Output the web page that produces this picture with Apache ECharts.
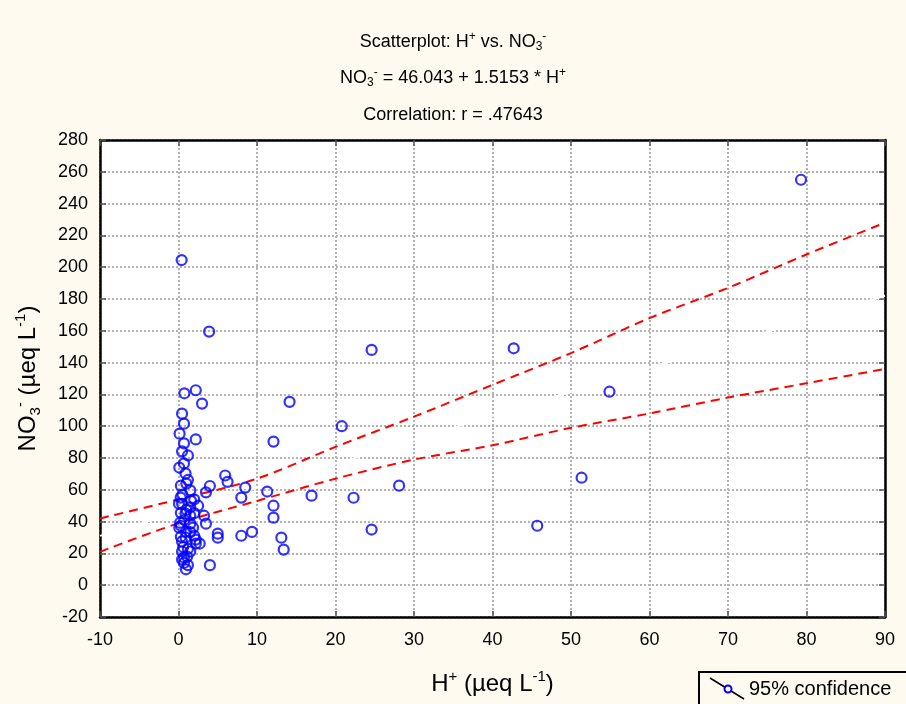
<!DOCTYPE html>
<html>
<head>
<meta charset="utf-8">
<script src="https://cdn.jsdelivr.net/npm/echarts@6/dist/echarts.min.js"></script>
<style>
html,body{margin:0;padding:0;background:#FEFAF0;}
#chart{width:906px;height:704px;}
</style>
</head>
<body>
<div id="chart"></div>
<script>
// H+ values (x) and NO3- values (y)
var hPlus = [79.3,0.4,3.9,24.6,42.7,54.9,14.15,2.2,0.75,3.0,0.45,0.7,20.8,0.14,12.1,2.2,0.7,0.45,1.2,0.7,0.1,0.9,5.95,6.25,1.2,1.0,0.3,4.0,8.5,28.1,51.35,1.5,11.3,3.5,16.95,8.0,22.3,2.0,0.27,0.06,0.45,2.5,12.1,12.1,3.25,3.5,5.0,5.0,8.0,9.36,13.1,13.4,24.6,45.7,4.0,2.2,2.7,2.2,1.5,1.5,1.5,0.45,0.9,0.45,0.7,0.45,1.2,0.95,0.7,0.1,0.3,0.2,0.74,0.9,1.5,2.0,1.85,0.95,2.0,1.0,1.5,0.3,0.6,1.2,0.3,1.1,1.6,0.5];
var no3 = [255,204.5,159.5,148,149,121.7,115.3,122.6,120.7,114.2,107.9,101.6,100,95.3,90.3,91.7,89.2,84.2,81.6,76.6,74,70.3,69,65,66.2,63.9,62.6,62.4,61.4,62.6,67.6,59.7,58.9,58.4,56.3,55.1,55,54,55.1,51.2,51.2,50,50,42.5,43.7,38.7,32.4,29.9,31.1,33.5,29.9,22.4,35,37.4,12.6,26.2,26.2,28.7,38.7,33.4,21.2,27.5,30,21.2,17.5,16.2,12.6,10,14,36.2,37.4,39.3,41,45,43.7,45.3,36.2,33.7,31.1,47.5,49,45.5,24,23,30.5,18,53,57];
// 95% confidence band, read at every 10 units of H+
var bandX = [-10,0,10,20,30,40,50,60,70,80,90];
var bandUpper = [42,54,67,87,106,126,146,168,187,208,228];
var bandLower = [21,39,53,67,79,88,99,108,118,127,136];
// regression line end points (drawn white in the original)
var regX = [-10,90];
var regY = [31,182];
var xTicks = {min:-10,max:90,interval:10};
var yTicks = {min:-20,max:280,interval:20};

var FONT = "'Liberation Sans', Arial, sans-serif";
function pairs(a,b){return a.map(function(v,i){return [v,b[i]];});}

var chart = echarts.init(document.getElementById('chart'), null, {renderer:'canvas'});
var titleRich = {
  n:{fontSize:18,fontWeight:'normal',fontFamily:FONT,color:'#000',lineHeight:22},
  sup:{fontSize:12,fontWeight:'normal',fontFamily:FONT,color:'#000',verticalAlign:'top',lineHeight:22},
  sub:{fontSize:12,fontWeight:'normal',fontFamily:FONT,color:'#000',verticalAlign:'bottom',lineHeight:18}
};
var nameRich = {
  n:{fontSize:24,fontFamily:FONT,color:'#000',lineHeight:30},
  sup:{fontSize:15,fontFamily:FONT,color:'#000',verticalAlign:'top',lineHeight:30},
  sub:{fontSize:15,fontFamily:FONT,color:'#000',verticalAlign:'bottom',lineHeight:24}
};
var lblStyle = {fontSize:18,fontFamily:FONT,color:'#000'};
var gridLine = {show:true,lineStyle:{type:'dotted',color:'#b3b3b3',width:2}};
var tick = {show:true,inside:true,length:6,lineStyle:{color:'#555',width:1.5}};
var border = {show:true,onZero:false,lineStyle:{color:'#000',width:2.5}};

chart.setOption({
  backgroundColor:'#FEFAF0',
  animation:false,
  title:[
    {text:'{n|Scatterplot: H}{sup|+}{n| vs. NO}{sub|3}{sup|-}',left:'center',top:26,textStyle:{fontWeight:'normal',rich:titleRich}},
    {text:'{n|NO}{sub|3}{sup|-}{n| = 46.043 + 1.5153 * H}{sup|+}',left:'center',top:62,textStyle:{fontWeight:'normal',rich:titleRich}},
    {text:'{n|Correlation: r = .47643}',left:'center',top:99,textStyle:{fontWeight:'normal',rich:titleRich}}
  ],
  grid:{left:100,right:21,top:140,bottom:87,show:true,backgroundColor:'#fff',borderWidth:0},
  xAxis:[
    {type:'value',min:xTicks.min,max:xTicks.max,interval:xTicks.interval,position:'bottom',
     axisLine:border,axisTick:tick,splitLine:gridLine,
     axisLabel:Object.assign({margin:14},lblStyle),
     name:'{n|H}{sup|+}{n| (µeq L}{sup|-1}{n|)}',nameLocation:'middle',nameGap:52,nameTextStyle:{rich:nameRich}},
    {type:'value',min:xTicks.min,max:xTicks.max,interval:xTicks.interval,position:'top',
     axisLine:border,axisTick:tick,splitLine:{show:false},axisLabel:{show:false}}
  ],
  yAxis:[
    {type:'value',min:yTicks.min,max:yTicks.max,interval:yTicks.interval,position:'left',
     axisLine:border,axisTick:tick,splitLine:gridLine,
     axisLabel:Object.assign({margin:12},lblStyle),
     name:'{n|NO}{sub|3}{sup|-}{n| (µeq L}{sup|-1}{n|)}',nameLocation:'middle',nameGap:57,nameRotate:90,nameTextStyle:{rich:nameRich}},
    {type:'value',min:yTicks.min,max:yTicks.max,interval:yTicks.interval,position:'right',
     axisLine:border,axisTick:tick,splitLine:{show:false},axisLabel:{show:false}}
  ],
  series:[
    {type:'line',data:pairs(regX,regY),symbol:'none',lineStyle:{color:'#fff',width:2},z:2,silent:true},
    {type:'line',data:pairs(bandX,bandUpper),symbol:'none',smooth:0.3,lineStyle:{color:'#ff0000',width:2,type:[9,6]},z:3},
    {type:'line',data:pairs(bandX,bandLower),symbol:'none',smooth:0.3,lineStyle:{color:'#ff0000',width:2,type:[9,6]},z:3},
    {type:'scatter',data:pairs(hPlus,no3),symbol:'circle',symbolSize:10,
     itemStyle:{color:'rgba(0,0,0,0)',borderColor:'#0000ff',borderWidth:2.2},z:4}
  ],
  graphic:[
    {type:'rect',shape:{x:699,y:672,width:220,height:40},style:{fill:'#FEFAF0',stroke:'#000',lineWidth:2},z:10},
    {type:'line',shape:{x1:710,y1:678,x2:744,y2:699},style:{stroke:'#000',lineWidth:1.5},z:11},
    {type:'circle',shape:{cx:728,cy:689,r:3.5},style:{fill:'#fff',stroke:'#0000ff',lineWidth:2},z:12},
    {type:'text',x:749,y:689,style:{text:'95% confidence',font:'20px '+FONT,fill:'#000',verticalAlign:'middle'},z:12}
  ]
});
</script>
</body>
</html>
